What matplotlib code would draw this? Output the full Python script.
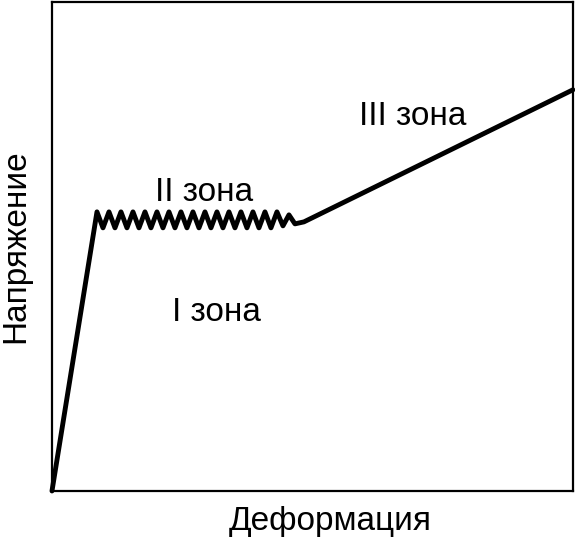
import matplotlib
matplotlib.use("Agg")
import matplotlib.pyplot as plt

plt.rcParams['font.family'] = ['Liberation Sans', 'DejaVu Sans']

# curve nodes (deformation, stress), arbitrary units
strain = [0, 45, 51, 57, 63, 69, 75, 81, 87, 93, 99, 105, 111, 117, 123, 129,
          135, 141, 147, 153, 159, 165, 171, 177, 183, 189, 195, 201, 207,
          213, 219, 225, 231, 237, 243, 252, 521]
stress = [0, 279, 263, 279, 263, 279, 263, 279, 263, 279, 263, 279, 263, 279,
          263, 279, 263, 279, 263, 279, 263, 279, 263, 279, 263, 279, 263,
          279, 263, 279, 263, 279, 265, 276, 267, 269, 401]

zone_labels = ["I зона", "II зона", "III зона"]
zone_x = [164, 152, 361]
zone_y = [178, 298, 374]

fig = plt.figure(figsize=(5.75, 5.37), dpi=100)
ax = fig.add_axes([0.0904, 0.0857, 0.906, 0.911])

ax.plot(strain, stress, color='black', lw=3.5, solid_joinstyle='round',
        solid_capstyle='round', clip_on=False)

for lab, x, y in zip(zone_labels, zone_x, zone_y):
    ax.text(x, y, lab, fontsize=24, ha='center', va='center')

ax.set_xlim(0, 521)
ax.set_ylim(0, 489)
ax.set_xticks([])
ax.set_yticks([])
for s in ax.spines.values():
    s.set_linewidth(1.6)

ax.set_xlabel("Деформация", fontsize=24, labelpad=11)
ax.set_ylabel("Напряжение", fontsize=24, labelpad=15)
ax.xaxis.label.set_x(0.534)  # label sits a bit right of centre in the original

fig.savefig("out.png", dpi=100)
